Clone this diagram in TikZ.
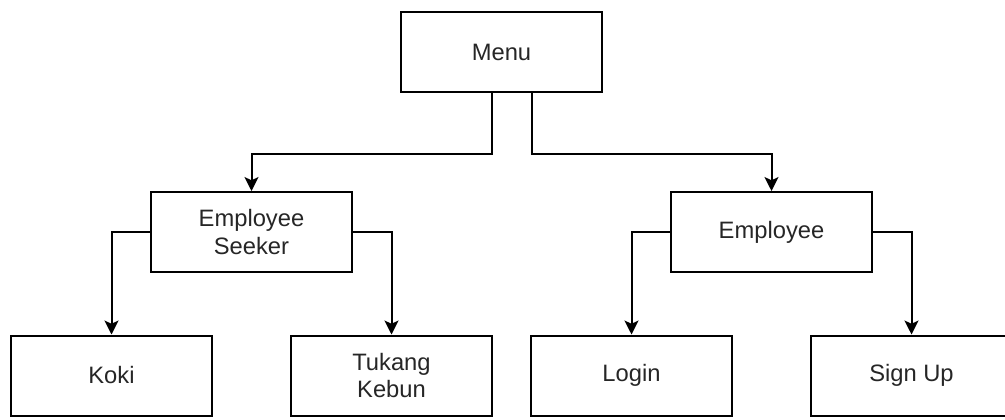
\documentclass[tikz,border=0pt]{standalone}
\usepackage{fontspec}
\setmainfont{Liberation Sans}
\usetikzlibrary{arrows.meta}
\begin{document}
\begin{tikzpicture}[x=0.75pt, y=-0.75pt,
  box/.style={draw=black, line width=1.5pt, fill=white, rectangle,
    minimum width=150.75pt, minimum height=60pt, inner sep=0pt,
    align=center, text=black!85,
    font=\fontsize{17.8}{20.5}\selectfont},
  link/.style={draw=black, line width=1.5pt,
    -{Stealth[length=10.5pt, width=10.5pt, inset=2.5pt]}}]
\useasboundingbox (0,0) rectangle (1005,419);

% top level
\node[box] (menu) at (501.5,52) {Menu};

% second level
\node[box] (seeker) at (251.5,232) {Employee\\Seeker};
\node[box] (employee) at (771.5,232) {Employee};

% leaves
\node[box] (koki) at (111.5,375.5) {Koki};
\node[box] (tukang) at (391.5,375.5) {Tukang\\Kebun};
\node[box] (login) at (631.5,375.5) {Login};
\node[box] (signup) at (911.5,375.5) {Sign Up};

% connectors
\draw[link] ([xshift=-7.2pt]menu.south) -- ++(0,61) -| (seeker);
\draw[link] ([xshift=22.8pt]menu.south) -- ++(0,61) -| (employee);
\draw[link] (seeker.west) -| (koki);
\draw[link] (seeker.east) -| (tukang);
\draw[link] (employee.west) -| (login);
\draw[link] (employee.east) -| (signup);
\end{tikzpicture}
\end{document}
